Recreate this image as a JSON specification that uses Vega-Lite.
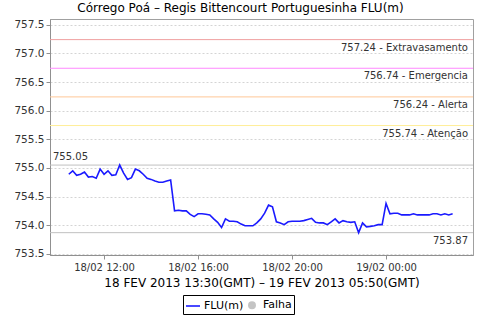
{
  "$schema": "https://vega.github.io/schema/vega-lite/v6.json",
  "autosize": {"type": "none"},
  "width": 423,
  "height": 236,
  "padding": {"left": 50, "top": 19, "right": 7, "bottom": 65},
  "background": "white",
  "title": {
    "text": "Córrego Poá – Regis Bittencourt Portuguesinha FLU(m)",
    "font": "DejaVu Sans",
    "fontSize": 12,
    "fontWeight": "normal",
    "color": "#000000",
    "dx": -21,
    "offset": 4
  },
  "config": {
    "view": {"stroke": "#a0a0a0", "strokeWidth": 1},
    "axis": {
      "labelFont": "DejaVu Sans",
      "labelColor": "#333333",
      "labelOverlap": false,
      "titleFont": "DejaVu Sans",
      "titleFontWeight": "normal",
      "titleColor": "#000000",
      "domainColor": "#909090",
      "tickColor": "#909090",
      "tickSize": 4,
      "gridColor": "#d4d4d4",
      "gridDash": [2, 2],
      "gridWidth": 1
    },
    "text": {"font": "DejaVu Sans", "fontSize": 10, "fill": "#333333"}
  },
  "datasets": {
    "serie": [
      {"t": "2013-02-18T10:30:00Z", "v": 754.89},
      {"t": "2013-02-18T10:40:00Z", "v": 754.95},
      {"t": "2013-02-18T10:50:00Z", "v": 754.87},
      {"t": "2013-02-18T11:00:00Z", "v": 754.89},
      {"t": "2013-02-18T11:10:00Z", "v": 754.93},
      {"t": "2013-02-18T11:20:00Z", "v": 754.84},
      {"t": "2013-02-18T11:30:00Z", "v": 754.85},
      {"t": "2013-02-18T11:40:00Z", "v": 754.82},
      {"t": "2013-02-18T11:50:00Z", "v": 754.98},
      {"t": "2013-02-18T12:00:00Z", "v": 754.89},
      {"t": "2013-02-18T12:10:00Z", "v": 754.95},
      {"t": "2013-02-18T12:20:00Z", "v": 754.87},
      {"t": "2013-02-18T12:30:00Z", "v": 754.88},
      {"t": "2013-02-18T12:40:00Z", "v": 755.05},
      {"t": "2013-02-18T12:50:00Z", "v": 754.91},
      {"t": "2013-02-18T13:00:00Z", "v": 754.80},
      {"t": "2013-02-18T13:10:00Z", "v": 754.83},
      {"t": "2013-02-18T13:20:00Z", "v": 754.98},
      {"t": "2013-02-18T13:30:00Z", "v": 754.95},
      {"t": "2013-02-18T13:40:00Z", "v": 754.89},
      {"t": "2013-02-18T13:50:00Z", "v": 754.82},
      {"t": "2013-02-18T14:00:00Z", "v": 754.80},
      {"t": "2013-02-18T14:10:00Z", "v": 754.77},
      {"t": "2013-02-18T14:20:00Z", "v": 754.75},
      {"t": "2013-02-18T14:30:00Z", "v": 754.75},
      {"t": "2013-02-18T14:40:00Z", "v": 754.77},
      {"t": "2013-02-18T14:50:00Z", "v": 754.79},
      {"t": "2013-02-18T15:00:00Z", "v": 754.25},
      {"t": "2013-02-18T15:10:00Z", "v": 754.26},
      {"t": "2013-02-18T15:20:00Z", "v": 754.25},
      {"t": "2013-02-18T15:30:00Z", "v": 754.25},
      {"t": "2013-02-18T15:40:00Z", "v": 754.19},
      {"t": "2013-02-18T15:50:00Z", "v": 754.15},
      {"t": "2013-02-18T16:00:00Z", "v": 754.20},
      {"t": "2013-02-18T16:10:00Z", "v": 754.20},
      {"t": "2013-02-18T16:20:00Z", "v": 754.19},
      {"t": "2013-02-18T16:30:00Z", "v": 754.18},
      {"t": "2013-02-18T16:40:00Z", "v": 754.11},
      {"t": "2013-02-18T16:50:00Z", "v": 754.05},
      {"t": "2013-02-18T17:00:00Z", "v": 753.96},
      {"t": "2013-02-18T17:10:00Z", "v": 754.11},
      {"t": "2013-02-18T17:20:00Z", "v": 754.07},
      {"t": "2013-02-18T17:30:00Z", "v": 754.07},
      {"t": "2013-02-18T17:40:00Z", "v": 754.06},
      {"t": "2013-02-18T17:50:00Z", "v": 754.02},
      {"t": "2013-02-18T18:00:00Z", "v": 753.99},
      {"t": "2013-02-18T18:10:00Z", "v": 753.99},
      {"t": "2013-02-18T18:20:00Z", "v": 753.99},
      {"t": "2013-02-18T18:30:00Z", "v": 754.04},
      {"t": "2013-02-18T18:40:00Z", "v": 754.11},
      {"t": "2013-02-18T18:50:00Z", "v": 754.21},
      {"t": "2013-02-18T19:00:00Z", "v": 754.35},
      {"t": "2013-02-18T19:10:00Z", "v": 754.32},
      {"t": "2013-02-18T19:20:00Z", "v": 754.06},
      {"t": "2013-02-18T19:30:00Z", "v": 754.04},
      {"t": "2013-02-18T19:40:00Z", "v": 754.01},
      {"t": "2013-02-18T19:50:00Z", "v": 754.06},
      {"t": "2013-02-18T20:00:00Z", "v": 754.07},
      {"t": "2013-02-18T20:10:00Z", "v": 754.07},
      {"t": "2013-02-18T20:20:00Z", "v": 754.07},
      {"t": "2013-02-18T20:30:00Z", "v": 754.08},
      {"t": "2013-02-18T20:40:00Z", "v": 754.10},
      {"t": "2013-02-18T20:50:00Z", "v": 754.12},
      {"t": "2013-02-18T21:00:00Z", "v": 754.05},
      {"t": "2013-02-18T21:10:00Z", "v": 754.04},
      {"t": "2013-02-18T21:20:00Z", "v": 754.04},
      {"t": "2013-02-18T21:30:00Z", "v": 754.01},
      {"t": "2013-02-18T21:40:00Z", "v": 754.06},
      {"t": "2013-02-18T21:50:00Z", "v": 754.11},
      {"t": "2013-02-18T22:00:00Z", "v": 754.04},
      {"t": "2013-02-18T22:10:00Z", "v": 754.08},
      {"t": "2013-02-18T22:20:00Z", "v": 754.06},
      {"t": "2013-02-18T22:30:00Z", "v": 754.05},
      {"t": "2013-02-18T22:40:00Z", "v": 754.06},
      {"t": "2013-02-18T22:50:00Z", "v": 753.87},
      {"t": "2013-02-18T23:00:00Z", "v": 754.04},
      {"t": "2013-02-18T23:10:00Z", "v": 753.97},
      {"t": "2013-02-18T23:20:00Z", "v": 753.98},
      {"t": "2013-02-18T23:30:00Z", "v": 753.99},
      {"t": "2013-02-18T23:40:00Z", "v": 754.01},
      {"t": "2013-02-18T23:50:00Z", "v": 754.01},
      {"t": "2013-02-19T00:00:00Z", "v": 754.38},
      {"t": "2013-02-19T00:10:00Z", "v": 754.20},
      {"t": "2013-02-19T00:20:00Z", "v": 754.21},
      {"t": "2013-02-19T00:30:00Z", "v": 754.21},
      {"t": "2013-02-19T00:40:00Z", "v": 754.18},
      {"t": "2013-02-19T00:50:00Z", "v": 754.18},
      {"t": "2013-02-19T01:00:00Z", "v": 754.18},
      {"t": "2013-02-19T01:10:00Z", "v": 754.20},
      {"t": "2013-02-19T01:20:00Z", "v": 754.18},
      {"t": "2013-02-19T01:30:00Z", "v": 754.18},
      {"t": "2013-02-19T01:40:00Z", "v": 754.18},
      {"t": "2013-02-19T01:50:00Z", "v": 754.18},
      {"t": "2013-02-19T02:00:00Z", "v": 754.20},
      {"t": "2013-02-19T02:10:00Z", "v": 754.20},
      {"t": "2013-02-19T02:20:00Z", "v": 754.18},
      {"t": "2013-02-19T02:30:00Z", "v": 754.20},
      {"t": "2013-02-19T02:40:00Z", "v": 754.18},
      {"t": "2013-02-19T02:50:00Z", "v": 754.20}
    ],
    "niveis": [
      {"nivel": "Extravasamento", "valor": 757.24, "rotulo": "757.24 - Extravasamento"},
      {"nivel": "Emergencia", "valor": 756.74, "rotulo": "756.74 - Emergencia"},
      {"nivel": "Alerta", "valor": 756.24, "rotulo": "756.24 - Alerta"},
      {"nivel": "Atencao", "valor": 755.74, "rotulo": "755.74 - Atenção"},
      {"nivel": "max", "valor": 755.05, "rotulo": "755.05"},
      {"nivel": "min", "valor": 753.87, "rotulo": "753.87"}
    ]
  },
  "encoding": {
    "y": {
      "type": "quantitative",
      "scale": {"domain": [753.48, 757.6], "zero": false, "nice": false},
      "axis": {
        "title": null,
        "labelFontSize": 10.5,
        "format": ".1f",
        "values": [753.5, 754.0, 754.5, 755.0, 755.5, 756.0, 756.5, 757.0, 757.5],
        "labelPadding": 2,
        "labelOverlap": false
      }
    }
  },
  "layer": [
    {
      "data": {"name": "niveis"},
      "transform": [{"filter": "datum.nivel === 'Extravasamento'"}],
      "mark": {"type": "rule", "strokeWidth": 1, "color": "#f0a0a0"},
      "encoding": {"y": {"field": "valor", "type": "quantitative"}}
    },
    {
      "data": {"name": "niveis"},
      "transform": [{"filter": "datum.nivel === 'Emergencia'"}],
      "mark": {"type": "rule", "strokeWidth": 1, "color": "#ff88ff"},
      "encoding": {"y": {"field": "valor", "type": "quantitative"}}
    },
    {
      "data": {"name": "niveis"},
      "transform": [{"filter": "datum.nivel === 'Alerta'"}],
      "mark": {"type": "rule", "strokeWidth": 1, "color": "#ffc898"},
      "encoding": {"y": {"field": "valor", "type": "quantitative"}}
    },
    {
      "data": {"name": "niveis"},
      "transform": [{"filter": "datum.nivel === 'Atencao'"}],
      "mark": {"type": "rule", "strokeWidth": 1, "color": "#ffee98"},
      "encoding": {"y": {"field": "valor", "type": "quantitative"}}
    },
    {
      "data": {"name": "niveis"},
      "transform": [{"filter": "datum.nivel === 'max' || datum.nivel === 'min'"}],
      "mark": {"type": "rule", "strokeWidth": 1, "color": "#c0c0c0"},
      "encoding": {"y": {"field": "valor", "type": "quantitative"}}
    },
    {
      "data": {"name": "niveis"},
      "transform": [{"filter": "datum.nivel !== 'max'"}],
      "mark": {"type": "text", "align": "right", "baseline": "top", "dx": -5, "dy": 3, "fill": "#333333"},
      "encoding": {
        "x": {"datum": 1361245320000, "type": "temporal"},
        "y": {"field": "valor", "type": "quantitative"},
        "text": {"field": "rotulo", "type": "nominal"}
      }
    },
    {
      "data": {"name": "niveis"},
      "transform": [{"filter": "datum.nivel === 'max'"}],
      "mark": {"type": "text", "align": "left", "baseline": "bottom", "dx": 3, "dy": -3, "fill": "#333333"},
      "encoding": {
        "x": {"datum": 1361180520000, "type": "temporal"},
        "y": {"field": "valor", "type": "quantitative"},
        "text": {"field": "rotulo", "type": "nominal"}
      }
    },
    {
      "data": {"name": "serie"},
      "transform": [{"calculate": "'FLU(m)'", "as": "serie"}],
      "mark": {"type": "line", "strokeWidth": 1.6},
      "encoding": {
        "x": {
          "field": "t",
          "type": "temporal",
          "scale": {
            "type": "utc",
            "domain": [1361180520000, 1361245320000]
          },
          "axis": {
            "title": "18 FEV 2013 13:30(GMT) – 19 FEV 2013 05:50(GMT)",
            "titleFontSize": 12,
            "titlePadding": 5,
            "labelFontSize": 10,
            "format": "%d/%m %H:%M",
            "values": [1361188800000, 1361203200000, 1361217600000, 1361232000000],
            "labelPadding": 3
          }
        },
        "y": {"field": "v", "type": "quantitative"},
        "color": {
          "field": "serie",
          "type": "nominal",
          "scale": {"domain": ["FLU(m)", "Falha"], "range": ["#1a1aff", "#c4c4c4"]},
          "legend": {
            "title": null,
            "orient": "none",
            "legendX": 133,
            "legendY": 276,
            "direction": "horizontal",
            "strokeColor": "#000000",
            "fillColor": "#ffffff",
            "padding": 2,
            "cornerRadius": 0,
            "labelFont": "DejaVu Sans",
            "labelFontSize": 11,
            "labelColor": "#000000",
            "labelOffset": 3,
            "columnPadding": 0,
            "symbolSize": 144,
            "encode": {
              "symbols": {
                "update": {
                  "shape": {"signal": "datum.value === 'Falha' ? 'circle' : 'stroke'"},
                  "size": {"signal": "datum.value === 'Falha' ? 40 : 196"},
                  "fill": {"signal": "datum.value === 'Falha' ? '#c4c4c4' : 'transparent'"},
                  "stroke": {"signal": "datum.value === 'Falha' ? '#c4c4c4' : '#1a1aff'"},
                  "strokeWidth": {"value": 1.6}
                }
              }
            }
          }
        }
      }
    }
  ]
}
